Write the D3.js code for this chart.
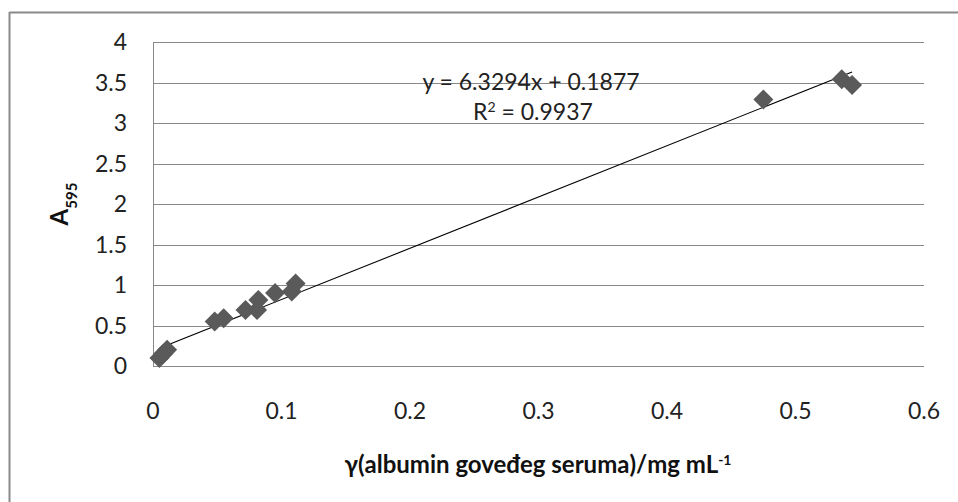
<!DOCTYPE html>
<html><head><meta charset="utf-8">
<script src="https://cdn.jsdelivr.net/npm/d3@7"></script>
<style>html,body{margin:0;padding:0;background:#fff;}svg{display:block;}</style>
</head><body>
<svg id="c" width="958" height="502"></svg>
<script>
const xValues = [0.005, 0.008, 0.011, 0.048, 0.055, 0.072, 0.081, 0.082, 0.095, 0.108, 0.111, 0.475, 0.536, 0.544];
const yValues = [0.10, 0.15, 0.20, 0.55, 0.59, 0.69, 0.69, 0.815, 0.90, 0.92, 1.02, 3.29, 3.54, 3.47];
const xTicks = [0, 0.1, 0.2, 0.3, 0.4, 0.5, 0.6];
const yTicks = [0, 0.5, 1, 1.5, 2, 2.5, 3, 3.5, 4];
const slope = 6.3294, intercept = 0.1877, r2 = "0.9937";

const svg = d3.select("#c");
const font = "Lato, 'Open Sans', sans-serif";
const L = 153, R = 924, T = 42, B = 366;
const x = d3.scaleLinear().domain([0, 0.6]).range([L, R]);
const y = d3.scaleLinear().domain([0, 4]).range([B, T]);

// outer border (top and left)
svg.append("line").attr("x1", 9.5).attr("x2", 958).attr("y1", 12.5).attr("y2", 12.5).attr("stroke", "#8a8a8a").attr("stroke-width", 2);
svg.append("line").attr("x1", 9.5).attr("x2", 9.5).attr("y1", 12).attr("y2", 502).attr("stroke", "#8a8a8a").attr("stroke-width", 2);

// gridlines
svg.append("g").selectAll("line").data(yTicks).join("line")
  .attr("x1", L).attr("x2", R)
  .attr("y1", d => Math.round(y(d)) + 0.5).attr("y2", d => Math.round(y(d)) + 0.5)
  .attr("stroke", "#888").attr("stroke-width", 1);
// left axis line
svg.append("line").attr("x1", L + 0.5).attr("x2", L + 0.5).attr("y1", T).attr("y2", B + 1).attr("stroke", "#888");

// y ticks
svg.append("g").selectAll("text").data(yTicks).join("text")
  .attr("x", 127).attr("y", d => y(d)).attr("dy", "0.36em")
  .attr("text-anchor", "end").attr("font-family", font).attr("font-size", 23).attr("fill", "#222")
  .text(d => d);
// x ticks
svg.append("g").selectAll("text").data(xTicks).join("text")
  .attr("x", d => x(d)).attr("y", 419)
  .attr("text-anchor", "middle").attr("font-family", font).attr("font-size", 23).attr("fill", "#222")
  .text(d => d);

// trendline
const xmin = d3.min(xValues), xmax = d3.max(xValues);
svg.append("line")
  .attr("x1", x(xmin)).attr("y1", y(slope * xmin + intercept))
  .attr("x2", x(xmax)).attr("y2", y(slope * xmax + intercept))
  .attr("stroke", "#000").attr("stroke-width", 1.1);

// markers
const r = 10;
svg.append("g").selectAll("path").data(xValues.map((v, i) => [v, yValues[i]])).join("path")
  .attr("transform", d => `translate(${x(d[0])},${y(d[1])})`)
  .attr("d", `M0,${-r}L${r},0L0,${r}L${-r},0Z`)
  .attr("fill", "#5a5a5a");

// equation
svg.append("text").attr("x", 531).attr("y", 90).attr("text-anchor", "middle")
  .attr("font-family", font).attr("font-size", 23).attr("fill", "#222")
  .text(`y = ${slope}x + ${intercept}`);
const t2 = svg.append("text").attr("x", 533).attr("y", 120).attr("text-anchor", "middle")
  .attr("font-family", font).attr("font-size", 23).attr("fill", "#222");
t2.append("tspan").text("R");
t2.append("tspan").attr("baseline-shift", "super").attr("font-size", 14).text("2");
t2.append("tspan").text(" = " + r2);

// axis titles
const xt = svg.append("text").attr("x", 538).attr("y", 473).attr("text-anchor", "middle")
  .attr("font-family", font).attr("font-size", 24).attr("font-weight", "bold").attr("fill", "#111");
xt.append("tspan").text("γ(albumin goveđeg seruma)/mg mL");
xt.append("tspan").attr("baseline-shift", "super").attr("font-size", 14).text("-1");

const yt = svg.append("text").attr("transform", "translate(68,204) rotate(-90)").attr("text-anchor", "middle")
  .attr("font-family", font).attr("font-size", 24).attr("font-weight", "bold").attr("fill", "#111");
yt.append("tspan").text("A");
yt.append("tspan").attr("baseline-shift", "sub").attr("font-size", 15).text("595");
</script>
</body></html>
